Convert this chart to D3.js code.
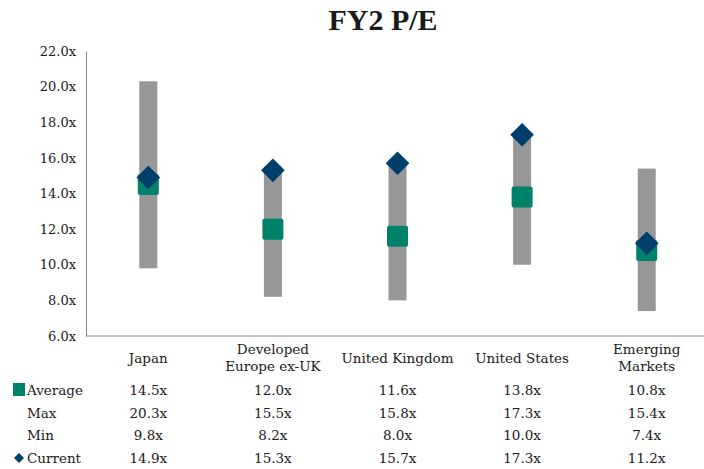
<!DOCTYPE html>
<html>
<head>
  <meta charset="utf-8">
  <title>FY2 P/E</title>
  <style>
    body { margin: 0; background: #fff; }
    svg text { font-family: "DejaVu Serif", "Liberation Serif", serif; fill: #1a1a1a; }
  </style>
</head>
<body>
  <svg id="chart"></svg>
  <script src="https://cdnjs.cloudflare.com/ajax/libs/d3/7.8.5/d3.min.js"></script>
  <script>
    // values
    const categories = ['Japan', 'Developed Europe ex-UK', 'United Kingdom', 'United States', 'Emerging Markets'];
    const categoryLines = [['Japan'], ['Developed', 'Europe ex-UK'], ['United Kingdom'], ['United States'], ['Emerging', 'Markets']];
    const average = [14.5, 12.0, 11.6, 13.8, 10.8];
    const maxVals = [20.3, 15.5, 15.8, 17.3, 15.4];
    const minVals = [9.8, 8.2, 8.0, 10.0, 7.4];
    const current = [14.9, 15.3, 15.7, 17.3, 11.2];
    const yTicks = [6, 8, 10, 12, 14, 16, 18, 20, 22];

    const width = 704, height = 469;
    const svg = d3.select('#chart').attr('width', width).attr('height', height);

    const x = d3.scaleBand().domain(categories).range([86, 709]);
    const y = d3.scaleLinear().domain([6, 22]).range([336, 51]);
    const fmt = v => v.toFixed(1) + 'x';

    svg.append('text')
      .attr('x', 383).attr('y', 30)
      .attr('text-anchor', 'middle')
      .style('font-family', '"Liberation Serif", serif')
      .style('font-weight', 'bold')
      .style('font-size', '30px')
      .text('FY2 P/E');

    // y axis
    const yAxis = svg.append('g')
      .attr('transform', 'translate(86,0)')
      .call(d3.axisLeft(y).tickValues(yTicks).tickSize(0).tickPadding(10).tickFormat(fmt));
    yAxis.select('.domain').attr('stroke', '#888');
    yAxis.selectAll('text').style('font-size', '13px').style('font-family', '"DejaVu Serif", serif').attr('fill', '#1a1a1a');

    // x axis line
    svg.append('line')
      .attr('x1', 86).attr('x2', width)
      .attr('y1', y(6)).attr('y2', y(6))
      .attr('stroke', '#888');

    const cx = (d, i) => x(categories[i]) + x.bandwidth() / 2;

    // min-max bars
    svg.selectAll('rect.range')
      .data(categories)
      .join('rect')
      .attr('class', 'range')
      .attr('x', (d, i) => cx(d, i) - 9)
      .attr('width', 18)
      .attr('y', (d, i) => y(maxVals[i]))
      .attr('height', (d, i) => y(minVals[i]) - y(maxVals[i]))
      .attr('fill', '#979797');

    // average squares
    svg.selectAll('rect.avg')
      .data(categories)
      .join('rect')
      .attr('class', 'avg')
      .attr('x', (d, i) => cx(d, i) - 10.5)
      .attr('y', (d, i) => y(average[i]) - 10.5)
      .attr('width', 21).attr('height', 21)
      .attr('rx', 2)
      .attr('fill', '#00826a');

    // current diamonds
    const diamond = d3.symbol().type(d3.symbolSquare).size(280);
    svg.selectAll('path.cur')
      .data(categories)
      .join('path')
      .attr('class', 'cur')
      .attr('d', diamond)
      .attr('transform', (d, i) => `translate(${cx(d, i)},${y(current[i])}) rotate(45)`)
      .attr('fill', '#003f6b');

    // category labels
    categoryLines.forEach((lines, i) => {
      const t = svg.append('text')
        .attr('text-anchor', 'middle')
        .style('font-size', '13.5px');
      const y0 = lines.length === 1 ? 363 : 354;
      lines.forEach((ln, j) => {
        t.append('tspan').attr('x', cx(null, i)).attr('y', y0 + j * 17).text(ln);
      });
    });

    // data table
    const rows = [
      { label: 'Average', vals: average },
      { label: 'Max', vals: maxVals },
      { label: 'Min', vals: minVals },
      { label: 'Current', vals: current }
    ];
    const rowY = d3.scalePoint().domain(rows.map(r => r.label)).range([395, 463]);

    rows.forEach(r => {
      svg.append('text')
        .attr('x', 27).attr('y', rowY(r.label))
        .style('font-size', '13.5px')
        .text(r.label);
      svg.selectAll(null)
        .data(r.vals)
        .join('text')
        .attr('x', (v, i) => cx(null, i))
        .attr('y', rowY(r.label))
        .attr('text-anchor', 'middle')
        .style('font-size', '13.5px')
        .text(fmt);
    });

    svg.append('rect')
      .attr('x', 13).attr('y', rowY('Average') - 12)
      .attr('width', 12).attr('height', 13)
      .attr('fill', '#00826a');
    svg.append('path')
      .attr('d', d3.symbol().type(d3.symbolSquare).size(50))
      .attr('transform', `translate(19,${rowY('Current') - 5}) rotate(45)`)
      .attr('fill', '#003f6b');
  </script>
</body>
</html>
